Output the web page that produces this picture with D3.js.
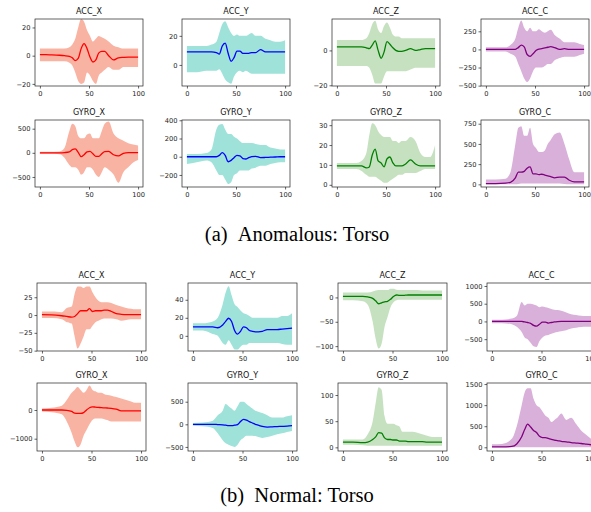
<!DOCTYPE html>
<html>
<head>
<meta charset="utf-8">
<script src="https://cdn.jsdelivr.net/npm/d3@7"></script>
<style>
  body { margin: 0; background: #fff; }
  svg { display: block; }
</style>
</head>
<body>
<div id="chart"></div>
<script>
// sample positions (time index) shared by every panel
const xs = [0, 10, 20, 25, 30, 33, 36, 39, 42, 45, 48, 51, 54, 57, 60, 63, 66, 70, 75, 80, 85, 90, 95, 100];
const xTicks = [0, 50, 100];
const channels = ['ACC_X', 'ACC_Y', 'ACC_Z', 'ACC_C', 'GYRO_X', 'GYRO_Y', 'GYRO_Z', 'GYRO_C'];
const captions = ['(a)\u00a0\u00a0Anomalous: Torso', '(b)\u00a0\u00a0Normal: Torso'];

// y limits and ticks, per channel
const anomYDomains = [[-21.5, 26], [-14.5, 31.6], [-20.4, 18], [-505, 420], [-708, 680], [-332, 403], [-1.1, 32.6], [-33, 796]];
const anomYTicks = [[-20, 0, 20], [0, 20], [-20, 0], [-500, -250, 0, 250], [-500, 0, 500], [-200, 0, 200, 400], [0, 10, 20, 30], [0, 250, 500, 750]];
const normYDomains = [[-50.5, 45], [-16.8, 58.6], [-110, 29.6], [-834, 1084], [-1429, 941], [-590, 914], [-7, 123], [-88, 1525]];
const normYTicks = [[-50, -25, 0, 25], [0, 20, 40], [-100, -50, 0], [-500, 0, 500, 1000], [-1000, 0], [-500, 0, 500], [0, 50, 100], [0, 500, 1000, 1500]];

// ---- anomalous: torso ----
const anomAccXMean = [0.8, 0.6, 0.3, 0, -0.5, -1.5, -3.5, -2, 5, 8.5, 5, -1, -4.5, -3, 2, 3, 3, 0, -3, -1.5, -1.2, -1, -1, -1];
const anomAccXHi = [5, 5, 5, 5, 6, 8, 12, 20, 26, 24, 18, 14, 10, 12, 14, 13, 12, 10, 7, 6, 5, 5, 5, 5];
const anomAccXLo = [-4, -4, -4, -4, -5, -7, -12, -18, -20, -19, -12, -14, -18, -20, -14, -12, -10, -8, -10, -10, -8, -8, -8, -8];

const anomAccYMean = [9, 9, 9, 9, 8.5, 7.5, 13, 15, 8, 2.5, 5, 9.5, 9.5, 8, 8, 8, 8.5, 8.5, 10.5, 9, 9, 9, 9, 9];
const anomAccYHi = [13, 13, 13, 14, 16, 22, 28, 30, 26, 22, 20, 21, 20, 20, 20, 21, 22, 20, 20, 18, 17, 16, 16, 17];
const anomAccYLo = [-5, -5, -4, -4, -4, -3, -6, -10, -12, -13, -8, -5, -4, -5, -4, -5, -6, -6, -6, -6, -6, -6, -6, -6];

const anomAccZMean = [2, 2, 2, 2, 1.5, 1, 3, 5.5, 0, -4.5, -1, 5, 3.5, 1.5, 0, -0.5, -0.5, 0, 1, 0, 0.5, 1, 1, 1];
const anomAccZHi = [6, 6, 6, 6, 7, 10, 15, 17, 12, 10, 14, 16, 13, 9, 8, 8, 7, 7, 7, 7, 7, 7, 7, 7];
const anomAccZLo = [-9, -9, -9, -9, -9, -10, -14, -19, -19, -19, -15, -12, -12, -12, -12, -12, -12, -12, -11, -10, -10, -10, -10, -10];

const anomAccCMean = [0, 0, 0, 0, 2, 25, 58, 35, -70, -95, -60, -15, 5, 10, 20, 30, 38, 25, 0, 10, 0, 0, 0, 0];
const anomAccCHi = [30, 30, 30, 60, 150, 300, 400, 300, 250, 300, 250, 250, 280, 250, 230, 250, 270, 200, 150, 100, 100, 100, 80, 60];
const anomAccCLo = [-30, -30, -30, -60, -100, -200, -300, -400, -450, -400, -300, -250, -250, -250, -230, -200, -200, -150, -120, -100, -100, -100, -80, -60];

const anomGyroXMean = [0, 0, 0, 5, 20, 65, 80, 10, -80, -40, 20, 30, -20, -75, -75, -20, 25, 30, -40, -65, -10, 5, 5, 5];
const anomGyroXHi = [20, 20, 30, 100, 450, 600, 550, 350, 300, 300, 380, 400, 300, 300, 300, 450, 600, 650, 400, 300, 250, 200, 170, 150];
const anomGyroXLo = [-20, -20, -30, -100, -250, -300, -300, -350, -450, -400, -300, -300, -350, -450, -500, -400, -300, -350, -450, -620, -400, -300, -200, -150];

const anomGyroYMean = [0, 0, 0, 0, 0, 15, 45, 15, -55, -40, -10, 15, 10, -20, -25, -10, 0, 5, -10, -8, -5, -3, 0, 0];
const anomGyroYHi = [30, 30, 40, 80, 300, 350, 360, 300, 250, 250, 220, 200, 170, 150, 150, 150, 150, 140, 130, 130, 100, 90, 80, 80];
const anomGyroYLo = [-80, -60, -40, -60, -150, -200, -200, -250, -300, -280, -200, -180, -150, -150, -150, -150, -130, -120, -100, -100, -80, -70, -60, -60];

const anomGyroZMean = [9.5, 9.5, 9.5, 9.5, 8.5, 9, 15, 18, 12, 11, 9, 13, 14, 11, 9.5, 9.5, 9.5, 10.5, 12.5, 10.5, 9.5, 9.5, 9.5, 9.5];
const anomGyroZHi = [11, 11, 11, 12, 16, 25, 31, 30, 27, 25, 24, 24, 24, 22, 22, 21, 22, 22, 24, 22, 16, 14, 14, 20];
const anomGyroZLo = [8, 8, 8, 7, 5, 4, 4, 4, 3, 2, 1, 1, 2, 3, 4, 5, 5, 6, 6, 6, 7, 8, 8, 8];

const anomGyroCMean = [10, 10, 15, 25, 80, 150, 150, 160, 200, 215, 130, 130, 120, 125, 115, 105, 95, 80, 90, 90, 50, 30, 30, 30];
const anomGyroCHi = [60, 60, 70, 150, 500, 700, 720, 600, 600, 700, 500, 450, 400, 400, 420, 500, 550, 620, 640, 500, 300, 150, 150, 150];
const anomGyroCLo = [0, 0, 0, 0, 0, 5, 10, 10, 10, 10, 10, 10, 10, 10, 10, 10, 10, 10, 10, 5, 0, 0, 0, 0];

// ---- normal: torso ----
const normAccXMean = [0.5, 0.3, -1, -2, -3, -2, 2, 6, 6, 6, 9, 5, 6, 6, 6, 7, 7, 5, 2, 1, 0.5, 0.5, 0.5, 0.5];
const normAccXHi = [5, 5, 4, 10, 12, 30, 40, 40, 38, 40, 40, 32, 25, 20, 18, 18, 18, 17, 14, 12, 10, 9, 8, 8];
const normAccXLo = [-4, -4, -6, -10, -12, -30, -47, -40, -30, -20, -20, -15, -10, -8, -6, -5, -5, -5, -6, -8, -7, -6, -6, -6];

const normAccYMean = [10, 10, 10, 9, 12, 16, 19.5, 16, 6, 2, 5, 10, 9, 6, 5, 4.5, 4.5, 5, 7, 7, 7, 7.5, 8, 8.5];
const normAccYHi = [14, 14, 16, 20, 35, 48, 55, 45, 35, 32, 28, 25, 24, 22, 20, 20, 20, 20, 20, 20, 20, 22, 22, 25];
const normAccYLo = [6, 6, 2, 0, -8, -10, -5, -10, -15, -15, -12, -10, -10, -8, -8, -8, -8, -8, -8, -8, -8, -9, -10, -10];

const normAccZMean = [2, 2, 2, 1, -2, -7, -13, -11, -9, -8, -4, 2, 5, 4, 4, 4.5, 5, 5, 5, 5, 5, 5, 5, 5];
const normAccZHi = [10, 10, 10, 10, 12, 14, 15, 15, 15, 15, 18, 18, 16, 15, 15, 15, 15, 15, 15, 14, 14, 14, 14, 14];
const normAccZLo = [-6, -6, -8, -15, -50, -85, -105, -95, -60, -40, -20, -10, -6, -5, -5, -5, -5, -5, -5, -5, -5, -5, -5, -5];

const normAccCMean = [0, 0, 0, 0, 0, -15, -30, -55, -110, -135, -80, -20, -20, -45, -30, -15, -5, 0, 0, 0, 0, 0, 0, 0];
const normAccCHi = [50, 50, 80, 150, 550, 450, 500, 500, 480, 450, 400, 420, 400, 380, 350, 330, 320, 300, 250, 200, 180, 160, 150, 150];
const normAccCLo = [-50, -50, -80, -150, -300, -450, -500, -600, -700, -720, -550, -450, -400, -380, -350, -320, -300, -280, -250, -200, -180, -160, -150, -150];

const normGyroXMean = [0, 0, 0, -10, -50, -110, -120, -120, -90, 0, 80, 110, 100, 90, 80, 75, 70, 60, 30, -30, -30, -30, -30, -30];
const normGyroXHi = [50, 80, 150, 350, 600, 700, 800, 700, 600, 700, 850, 700, 650, 600, 600, 550, 520, 500, 450, 400, 350, 300, 250, 250];
const normGyroXLo = [-50, -80, -150, -400, -800, -1100, -1300, -1200, -900, -700, -500, -350, -300, -300, -300, -320, -350, -400, -400, -400, -400, -400, -400, -400];

const normGyroYMean = [0, 0, 0, -5, -10, -20, -30, -30, -20, -5, 60, 110, 95, 60, 30, 0, -20, -45, -60, -55, -50, -45, -40, -30];
const normGyroYHi = [30, 40, 80, 200, 300, 450, 400, 350, 300, 400, 500, 500, 450, 400, 350, 300, 280, 250, 200, 150, 150, 150, 180, 200];
const normGyroYLo = [-30, -40, -80, -200, -350, -420, -450, -480, -500, -450, -350, -300, -250, -250, -250, -260, -280, -300, -280, -250, -220, -200, -170, -150];

const normGyroZMean = [10, 10, 9, 10, 15, 20, 28, 27, 18, 15, 15, 14, 14, 12, 12, 12, 11, 11, 11, 11, 10, 10, 10, 10];
const normGyroZHi = [15, 15, 15, 25, 50, 85, 115, 110, 60, 45, 45, 45, 42, 40, 30, 30, 30, 30, 28, 25, 22, 20, 20, 20];
const normGyroZLo = [5, 5, 4, 3, 3, 3, 3, 3, 3, 3, 3, 3, 3, 3, 3, 3, 3, 3, 3, 3, 3, 3, 3, 3];

const normGyroCMean = [10, 10, 20, 80, 250, 420, 550, 480, 400, 350, 260, 230, 230, 210, 190, 170, 160, 140, 130, 110, 100, 90, 75, 60];
const normGyroCHi = [70, 80, 200, 500, 1000, 1300, 1400, 1400, 1150, 1000, 950, 850, 750, 700, 600, 650, 700, 800, 650, 700, 550, 400, 300, 200];
const normGyroCLo = [0, 0, 0, 0, 0, 0, 0, 0, 0, 0, 0, 0, 0, 0, 0, 0, 0, 0, 0, 0, 0, 0, 0, 0];

const anomSeries = [
  [anomAccXMean, anomAccXHi, anomAccXLo], [anomAccYMean, anomAccYHi, anomAccYLo],
  [anomAccZMean, anomAccZHi, anomAccZLo], [anomAccCMean, anomAccCHi, anomAccCLo],
  [anomGyroXMean, anomGyroXHi, anomGyroXLo], [anomGyroYMean, anomGyroYHi, anomGyroYLo],
  [anomGyroZMean, anomGyroZHi, anomGyroZLo], [anomGyroCMean, anomGyroCHi, anomGyroCLo]
];
const normSeries = [
  [normAccXMean, normAccXHi, normAccXLo], [normAccYMean, normAccYHi, normAccYLo],
  [normAccZMean, normAccZHi, normAccZLo], [normAccCMean, normAccCHi, normAccCLo],
  [normGyroXMean, normGyroXHi, normGyroXLo], [normGyroYMean, normGyroYHi, normGyroYLo],
  [normGyroZMean, normGyroZHi, normGyroZLo], [normGyroCMean, normGyroCHi, normGyroCLo]
];

const meanColors = ['#ff0000', '#0000ff', '#008000', '#800080'];
const bandColors = ['#f9b3a3', '#9fe2d9', '#c6e1c0', '#d9b0d9'];

const width = 591, height = 512;
const svg = d3.select('#chart').append('svg')
  .attr('width', width)
  .attr('height', height)
  .style('background', '#fff');

// two blocks of 2x4 panels, each with its own caption
const sections = [
  { rows: [19, 120], lefts: [35, 182, 332, 481], w: 108, h: 67, capY: 241, doms: anomYDomains, ticks: anomYTicks, series: anomSeries },
  { rows: [283, 383], lefts: [37, 188, 338, 487], w: 109, h: 68, capY: 502, doms: normYDomains, ticks: normYTicks, series: normSeries }
];

let clipId = 0;
sections.forEach((sec, si) => {
  channels.forEach((name, i) => {
    const row = Math.floor(i / 4), col = i % 4;
    const left = sec.lefts[col], top = sec.rows[row];
    const [meanVals, hiVals, loVals] = sec.series[i];

    const x = d3.scaleLinear().domain([-5, 105]).range([left, left + sec.w]);
    const y = d3.scaleLinear().domain(sec.doms[i]).range([top + sec.h, top]);

    const id = 'clip' + (clipId++);
    svg.append('clipPath').attr('id', id)
      .append('rect')
      .attr('x', left).attr('y', top)
      .attr('width', sec.w).attr('height', sec.h);

    const g = svg.append('g');
    const plot = g.append('g').attr('clip-path', `url(#${id})`);

    const pts = xs.map((v, k) => ({ x: v, m: meanVals[k], hi: hiVals[k], lo: loVals[k] }));

    // spread of the individual traces
    plot.append('path')
      .datum(pts)
      .attr('fill', bandColors[col])
      .attr('d', d3.area()
        .curve(d3.curveMonotoneX)
        .x(d => x(d.x))
        .y0(d => y(d.lo))
        .y1(d => y(d.hi)));

    // mean trace
    plot.append('path')
      .datum(pts)
      .attr('fill', 'none')
      .attr('stroke', meanColors[col])
      .attr('stroke-width', 1.3)
      .attr('d', d3.line()
        .curve(d3.curveMonotoneX)
        .x(d => x(d.x))
        .y(d => y(d.m)));

    // axes
    const fmt = d3.format('d');
    const yAxis = g.append('g')
      .attr('transform', `translate(${left},0)`)
      .call(d3.axisLeft(y).tickValues(sec.ticks[i]).tickFormat(fmt).tickSize(2.5).tickPadding(2));
    const xAxis = g.append('g')
      .attr('transform', `translate(0,${top + sec.h})`)
      .call(d3.axisBottom(x).tickValues(xTicks).tickFormat(fmt).tickSize(2.5).tickPadding(2.5));

    [yAxis, xAxis].forEach(a => {
      a.select('.domain').remove();
      a.selectAll('line').attr('stroke', '#222').attr('stroke-width', 0.7);
      a.selectAll('text')
        .attr('fill', '#222')
        .style('font-family', '"DejaVu Sans", sans-serif')
        .style('font-size', '6.7px');
    });

    g.append('rect')
      .attr('x', left).attr('y', top)
      .attr('width', sec.w).attr('height', sec.h)
      .attr('fill', 'none')
      .attr('stroke', '#222')
      .attr('stroke-width', 0.7);

    g.append('text')
      .attr('x', left + sec.w / 2)
      .attr('y', top - 5)
      .attr('text-anchor', 'middle')
      .style('font-family', '"DejaVu Sans", sans-serif')
      .style('font-size', '8px')
      .attr('fill', '#111')
      .text(name);
  });

  svg.append('text')
    .attr('x', 297)
    .attr('y', sec.capY)
    .attr('text-anchor', 'middle')
    .style('font-family', '"Liberation Serif", "Times New Roman", serif')
    .style('font-size', '20.5px')
    .attr('fill', '#000')
    .text(captions[si]);
});
</script>
</body>
</html>
